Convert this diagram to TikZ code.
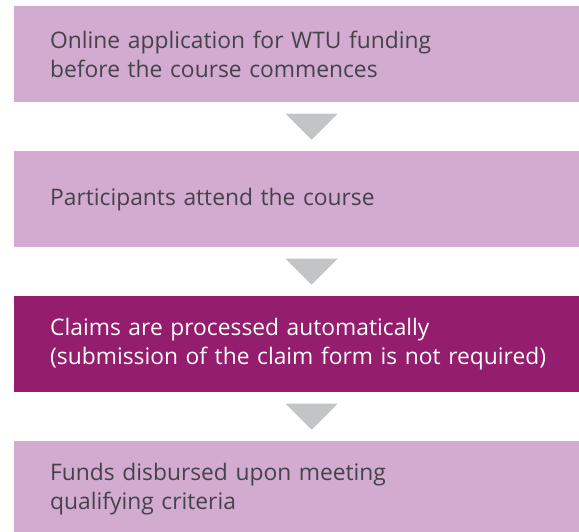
\documentclass[tikz,border=0pt]{standalone}
\usepackage{fontspec}
\setmainfont{Open Sans}
\usetikzlibrary{calc}
\definecolor{lightplum}{HTML}{D3AAD0}
\definecolor{darkplum}{HTML}{951D6D}
\definecolor{arrowgray}{HTML}{C3C4C6}
\definecolor{textgray}{HTML}{444349}
\begin{document}
\begin{tikzpicture}[x=1pt,y=-1pt,
  stepbox/.style={rectangle, anchor=north west, minimum width=565pt, minimum height=96pt,
    text width=520pt, inner xsep=36pt, inner ysep=0pt, align=left,
    font=\fontsize{22.8}{29.5}\selectfont},
  lightbox/.style={stepbox, fill=lightplum, text=textgray},
  darkbox/.style={stepbox, fill=darkplum, text=white},
  tri/.style={fill=arrowgray}]
\useasboundingbox (0,0) rectangle (579,531);
\node[lightbox] (b1) at (14,6) {Online application for WTU funding\\before the course commences};
\node[lightbox] (b2) at (14,151) {Participants attend the course};
\node[darkbox] (b3) at (14,296) {Claims are processed automatically\\(submission of the claim form is not required)};
\node[lightbox] (b4) at (14,441) {Funds disbursed upon meeting\\qualifying criteria};
\foreach \a/\b in {b1/b2,b2/b3,b3/b4}{
  \coordinate (m) at ($(\a.south)!0.5!(\b.north)+(1.5,0)$);
  \fill[tri] ($(m)+(-26,-13)$) -- ($(m)+(26,-13)$) -- ($(m)+(0,13)$) -- cycle;
}
\end{tikzpicture}
\end{document}
